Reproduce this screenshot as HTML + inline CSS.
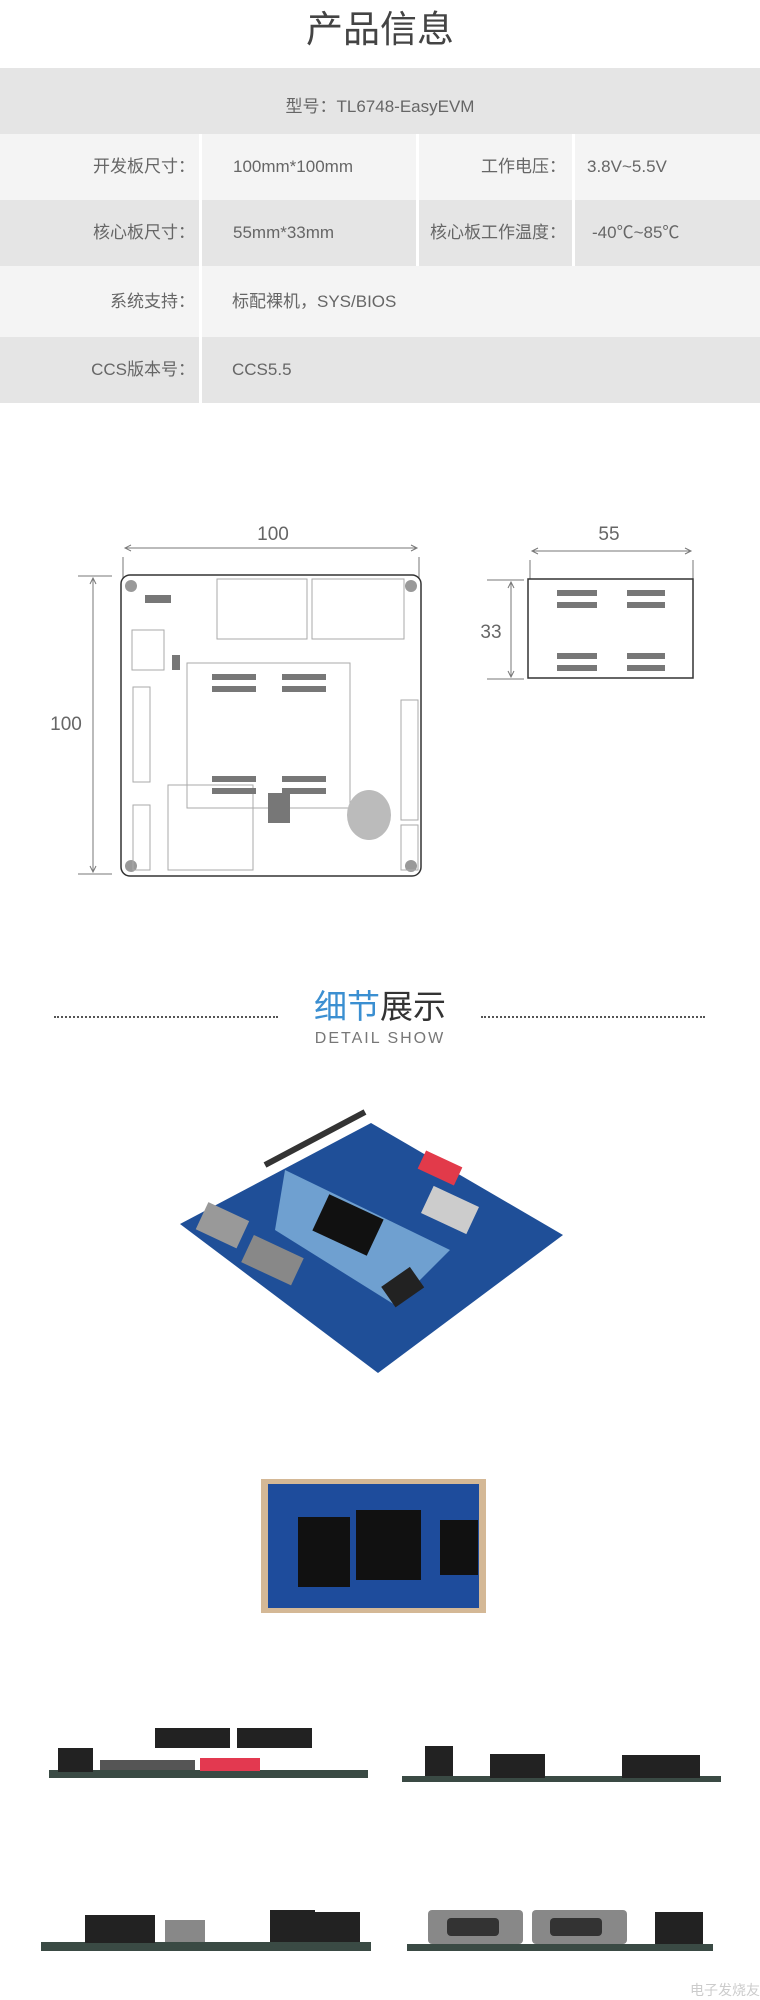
<!DOCTYPE html>
<html><head><meta charset="utf-8"><style>
*{margin:0;padding:0;box-sizing:border-box}
body{width:760px;height:2000px;background:#fff;position:relative;overflow:hidden;font-family:"Liberation Sans","Noto Sans CJK SC",sans-serif;color:#666}
.a{position:absolute}
.row{position:absolute;left:0;width:760px}
.t{position:absolute;font-size:17px;line-height:20px;white-space:nowrap}
.r{text-align:right}
.vd{position:absolute;width:3px;background:#fff}
</style></head><body>
<div class="a" style="left:0;width:760px;top:8px;text-align:center;font-size:37px;line-height:44px;color:#444">产品信息</div>

<div class="row" style="top:68px;height:66px;background:#e5e5e5"></div>
<div class="row" style="top:134px;height:66px;background:#f4f4f4"></div>
<div class="row" style="top:200px;height:66px;background:#e5e5e5"></div>
<div class="row" style="top:266px;height:71px;background:#f4f4f4"></div>
<div class="row" style="top:337px;height:66px;background:#e5e5e5"></div>
<div class="vd" style="left:199px;top:134px;height:269px"></div>
<div class="vd" style="left:416px;top:134px;height:132px"></div>
<div class="vd" style="left:572px;top:134px;height:132px"></div>

<div class="t" style="left:0;width:760px;top:97px;text-align:center">型号：TL6748-EasyEVM</div>
<div class="t r" style="left:0;width:195px;top:157px">开发板尺寸：</div>
<div class="t" style="left:233px;top:157px">100mm*100mm</div>
<div class="t r" style="left:400px;width:166px;top:157px">工作电压：</div>
<div class="t" style="left:587px;top:157px">3.8V~5.5V</div>
<div class="t r" style="left:0;width:195px;top:223px">核心板尺寸：</div>
<div class="t" style="left:233px;top:223px">55mm*33mm</div>
<div class="t r" style="left:400px;width:166px;top:223px">核心板工作温度：</div>
<div class="t" style="left:592px;top:223px">-40℃~85℃</div>
<div class="t r" style="left:0;width:195px;top:292px">系统支持：</div>
<div class="t" style="left:232px;top:292px">标配裸机，SYS/BIOS</div>
<div class="t r" style="left:0;width:195px;top:360px">CCS版本号：</div>
<div class="t" style="left:232px;top:360px">CCS5.5</div>

<svg class="a" style="left:0;top:500px" width="760" height="400">
<g fill="#666" font-family="Liberation Sans" font-size="19" text-anchor="middle">
<text x="273" y="40">100</text><text x="609" y="40">55</text>
<text x="66" y="230">100</text><text x="491" y="138">33</text></g>
<g stroke="#777" stroke-width="1" fill="none">
<line x1="123" y1="57" x2="123" y2="110"/><line x1="419" y1="57" x2="419" y2="110"/>
<line x1="125" y1="48" x2="417" y2="48"/>
<path d="M131,45 L125,48 L131,51 M411,45 L417,48 L411,51"/>
<line x1="530" y1="60" x2="530" y2="112"/><line x1="693" y1="60" x2="693" y2="112"/>
<line x1="532" y1="51" x2="691" y2="51"/>
<path d="M538,48 L532,51 L538,54 M685,48 L691,51 L685,54"/>
<line x1="78" y1="76" x2="112" y2="76"/><line x1="78" y1="374" x2="112" y2="374"/>
<line x1="93" y1="78" x2="93" y2="372"/>
<path d="M90,84 L93,78 L96,84 M90,366 L93,372 L96,366"/>
<line x1="487" y1="80" x2="524" y2="80"/><line x1="487" y1="179" x2="524" y2="179"/>
<line x1="511" y1="82" x2="511" y2="177"/>
<path d="M508,88 L511,82 L514,88 M508,171 L511,177 L514,171"/>
</g>
<rect x="121" y="75" width="300" height="301" rx="9" fill="#fff" stroke="#333" stroke-width="1.5"/>
<g fill="#999"><circle cx="131" cy="86" r="6"/><circle cx="411" cy="86" r="6"/><circle cx="131" cy="366" r="6"/><circle cx="411" cy="366" r="6"/></g>
<g fill="none" stroke="#aaa"><rect x="217" y="79" width="90" height="60"/><rect x="312" y="79" width="92" height="60"/>
<rect x="187" y="163" width="163" height="145"/><rect x="168" y="285" width="85" height="85"/><rect x="132" y="130" width="32" height="40"/>
<rect x="133" y="187" width="17" height="95"/><rect x="133" y="305" width="17" height="65"/><rect x="401" y="200" width="17" height="120"/><rect x="401" y="325" width="17" height="45"/></g>
<ellipse cx="369" cy="315" rx="22" ry="25" fill="#bbb"/>
<g fill="#777"><rect x="212" y="174" width="44" height="6"/><rect x="212" y="186" width="44" height="6"/><rect x="282" y="174" width="44" height="6"/><rect x="282" y="186" width="44" height="6"/>
<rect x="212" y="276" width="44" height="6"/><rect x="212" y="288" width="44" height="6"/><rect x="282" y="276" width="44" height="6"/><rect x="282" y="288" width="44" height="6"/>
<rect x="268" y="293" width="22" height="30"/><rect x="145" y="95" width="26" height="8"/><rect x="172" y="155" width="8" height="15"/></g>
<rect x="528" y="79" width="165" height="99" fill="#fff" stroke="#333" stroke-width="1.5"/>
<g fill="#777"><rect x="557" y="90" width="40" height="6"/><rect x="557" y="102" width="40" height="6"/><rect x="627" y="90" width="38" height="6"/><rect x="627" y="102" width="38" height="6"/>
<rect x="557" y="153" width="40" height="6"/><rect x="557" y="165" width="40" height="6"/><rect x="627" y="153" width="38" height="6"/><rect x="627" y="165" width="38" height="6"/></g>
</svg>

<div class="a" style="left:54px;top:1016px;width:224px;border-top:2px dotted #555"></div>
<div class="a" style="left:481px;top:1016px;width:224px;border-top:2px dotted #555"></div>
<div class="a" style="left:0;width:760px;top:988px;text-align:center;font-size:33px;line-height:38px;color:#333"><span style="color:#3b8fd1">细节</span>展示</div>
<div class="a" style="left:0;width:760px;top:1030px;text-align:center;font-size:16px;letter-spacing:2px;color:#777">DETAIL SHOW</div>

<svg class="a" style="left:0;top:1100px" width="760" height="900">
<polygon points="371,23 563,135 378,273 180,124" fill="#1f4f98"/>
<polygon points="285,70 450,150 395,205 275,130" fill="#6fa0d0"/>
<rect x="318" y="105" width="60" height="40" fill="#111" transform="rotate(25 348 125)"/>
<rect x="200" y="110" width="45" height="30" fill="#999" transform="rotate(25 222 125)"/>
<rect x="245" y="145" width="55" height="30" fill="#888" transform="rotate(25 272 160)"/>
<rect x="420" y="58" width="40" height="20" fill="#e23a4a" transform="rotate(25 440 68)"/>
<rect x="425" y="95" width="50" height="30" fill="#ccc" transform="rotate(25 450 110)"/>
<rect x="385" y="175" width="35" height="25" fill="#222" transform="rotate(-35 402 187)"/>
<line x1="265" y1="65" x2="365" y2="12" stroke="#333" stroke-width="6"/>
<rect x="261" y="379" width="225" height="134" fill="#d4b896"/>
<rect x="268" y="384" width="211" height="124" fill="#1e4c9c"/>
<rect x="298" y="417" width="52" height="70" fill="#111"/><rect x="356" y="410" width="65" height="70" fill="#111"/><rect x="440" y="420" width="38" height="55" fill="#111"/>
<g fill="#3a4a44"><rect x="49" y="670" width="319" height="8"/><rect x="402" y="676" width="319" height="6"/><rect x="41" y="842" width="330" height="9"/><rect x="407" y="844" width="306" height="7"/></g>
<g fill="#222"><rect x="58" y="648" width="35" height="24"/><rect x="155" y="628" width="75" height="20"/><rect x="237" y="628" width="75" height="20"/><rect x="490" y="654" width="55" height="24"/><rect x="622" y="655" width="78" height="23"/><rect x="425" y="646" width="28" height="30"/>
<rect x="85" y="815" width="70" height="28"/><rect x="270" y="810" width="45" height="32"/><rect x="305" y="812" width="55" height="30"/><rect x="655" y="812" width="48" height="32"/></g>
<rect x="200" y="658" width="60" height="13" fill="#e33950"/>
<rect x="100" y="660" width="95" height="10" fill="#555"/>
<g fill="#888"><rect x="165" y="820" width="40" height="22"/><rect x="428" y="810" width="95" height="34" rx="4"/><rect x="532" y="810" width="95" height="34" rx="4"/></g>
<g fill="#333"><rect x="447" y="818" width="52" height="18" rx="4"/><rect x="550" y="818" width="52" height="18" rx="4"/></g>
<text x="690" y="895" font-size="14" fill="#ccc" font-family="Liberation Sans,Noto Sans CJK SC,sans-serif">电子发烧友</text>
</svg>
</body></html>
